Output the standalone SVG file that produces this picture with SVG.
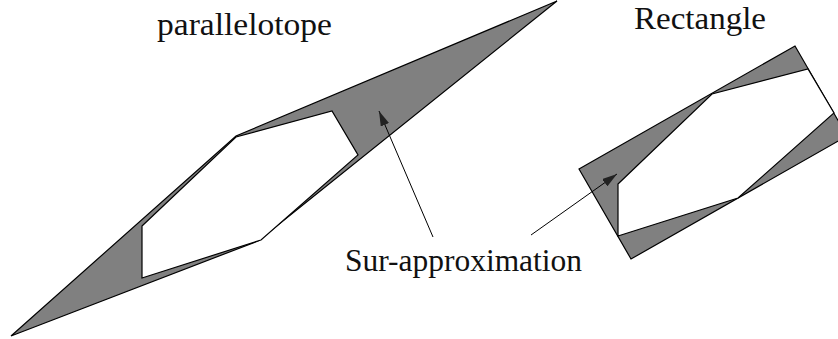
<svg xmlns="http://www.w3.org/2000/svg" width="838" height="339" viewBox="0 0 838 339">
  <style>
    .outer { fill: #808080; stroke: #000; stroke-width: 1.2; stroke-linejoin: miter; }
    .inner { fill: #fff; stroke: #000; stroke-width: 1.2; stroke-linejoin: miter; }
    .label { font-family: 'Liberation Serif', 'DejaVu Serif', 'Times New Roman', serif; font-size: 32px; fill: #111; }
    .arrow { stroke: #000; stroke-width: 1; fill: none; }
  </style>
  <defs>
    <marker id="head" viewBox="0 0 15 9" refX="15" refY="4.5" markerWidth="15" markerHeight="9" markerUnits="userSpaceOnUse" orient="auto">
      <path d="M0,0 L15,4.5 L0,9 Z" fill="#222"/>
    </marker>
  </defs>
  <rect width="838" height="339" fill="#fff"/>

  <g id="parallelotope">
    <polygon class="outer" points="11,336 236,136 557,1 258,241"/>
    <polygon class="inner" points="142,226 236,137 332,111 358,155 261,240 142,278"/>
  </g>

  <g id="rectangle">
    <polygon class="outer" points="579,169 795,46 847,136 631,259"/>
    <polygon class="inner" points="618,184 712,94 808,69 834,113 738,198 618,236"/>
  </g>

  <g id="labels">
    <text id="label-parallelotope" class="label" x="157" y="35" textLength="175" lengthAdjust="spacingAndGlyphs">parallelotope</text>
    <text id="label-rectangle" class="label" x="634" y="28.5" textLength="132" lengthAdjust="spacingAndGlyphs">Rectangle</text>
    <text id="label-sur" class="label" x="345" y="270.5" textLength="237" lengthAdjust="spacingAndGlyphs">Sur-approximation</text>
  </g>

  <g id="connectors">
    <line class="arrow" x1="433" y1="237" x2="379" y2="111" marker-end="url(#head)"/>
    <line class="arrow" x1="531" y1="235" x2="617" y2="174" marker-end="url(#head)"/>
  </g>
</svg>
